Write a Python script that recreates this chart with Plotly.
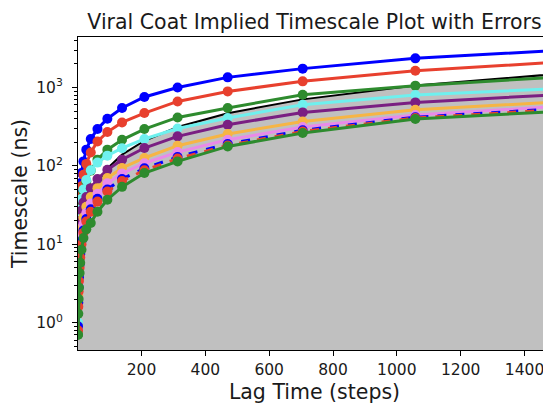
import plotly.graph_objects as go

# ---- data ----
lag_steps = [1, 2, 3, 4, 6, 8, 12, 18, 27, 41, 62, 93, 139, 209, 313, 470, 705, 1058, 1587]

ts_blue    = [0.95, 10, 20, 30, 45, 60, 81, 114, 161, 220, 295, 400, 547, 757, 1000, 1346, 1740, 2354, 3100]
ts_red     = [0.8, 6, 14, 22, 32, 41, 55, 77, 106, 148, 205, 270, 358, 472, 664, 891, 1197, 1638, 2200]
ts_green   = [0.7, 4, 9, 14, 22, 28, 36, 47, 63, 87, 120, 161, 215, 295, 415, 547, 809, 1055, 1420]
ts_cyan    = [1.0, 5, 10, 14, 22, 28, 38, 50, 66, 88, 110, 135, 168, 220, 300, 408, 603, 802, 1000]
ts_purple  = [0.85, 4, 7, 10, 15, 20, 27, 34, 40, 52, 68, 89, 120, 169, 238, 335, 481, 645, 845]
ts_orange  = [0.9, 2.2, 3.5, 5, 8, 11, 16, 22, 30, 40, 52, 70, 94, 126, 181, 255, 369, 521, 680]
ts_violet  = [0.85, 2, 3.2, 4.5, 6.5, 9, 13, 18, 25, 33, 44, 60, 80, 108, 150, 215, 313, 445, 600]
ts_blue_d  = [0.9, 1.8, 2.8, 3.8, 5.5, 7.5, 11, 15, 21, 28, 38, 50, 68, 93, 130, 190, 285, 418, 560]
ts_red_d   = [0.8, 1.6, 2.5, 3.4, 5, 6.8, 10, 14, 19.5, 26, 35, 47, 64, 88, 124, 182, 275, 408, 545]
ts_green_b = [0.7, 1.3, 2.0, 2.8, 4.3, 5.8, 8.5, 12, 15.5, 18.7, 26, 37, 54, 81, 114, 177, 262, 396, 515]

y_tick_vals = [1, 10, 100, 1000]
y_tick_text = ["10<sup>0</sup>", "10<sup>1</sup>", "10<sup>2</sup>", "10<sup>3</sup>"]
x_tick_vals = [200, 400, 600, 800, 1000, 1200, 1400]

series = [
    (ts_blue,    "#0000ff", "solid"),
    (ts_red,     "#e8402e", "solid"),
    (ts_green,   "#2e8b2e", "solid"),
    (ts_cyan,    "#6ef0ee", "solid"),
    (ts_purple,  "#7a1f82", "solid"),
    (ts_orange,  "#f6b545", "solid"),
    (ts_violet,  "#e98ae9", "solid"),
    (ts_blue_d,  "#0000ff", "dash"),
    (ts_red_d,   "#e8402e", "dash"),
    (ts_green_b, "#2e8b2e", "solid"),
]

FONT = "DejaVu Sans"
TXT = "#1a1a1a"

# page body adds an 8px offset; figure sized so the axes land where the reference has them
W, H = 543, 396

fig = go.Figure()

# shaded region below the lag-time line
fig.add_trace(go.Scatter(
    x=lag_steps + lag_steps[::-1],
    y=lag_steps + [1e-3] * len(lag_steps),
    fill="toself", fillcolor="#c0c0c0", mode="lines",
    line=dict(width=0), hoverinfo="skip", showlegend=False))

# lag-time line
fig.add_trace(go.Scatter(
    x=lag_steps, y=lag_steps, mode="lines",
    line=dict(color="black", width=2), showlegend=False))

for vals, col, dash in series:
    fig.add_trace(go.Scatter(
        x=lag_steps, y=vals, mode="lines+markers",
        line=dict(color=col, width=3, dash=dash),
        marker=dict(color=col, size=10),
        showlegend=False))

minor_vals = [m * 10 ** e for e in range(-1, 4) for m in range(2, 10)]

fig.update_layout(
    width=W, height=H,
    margin=dict(l=70, r=0, t=29, b=54),
    paper_bgcolor="white", plot_bgcolor="white",
    font=dict(family=FONT, color=TXT),
    title=dict(text="Viral Coat Implied Timescale Plot with Errors",
               x=(314.5 - 8) / W, xref="container", xanchor="center",
               y=1 - 14 / H, yref="container", yanchor="middle",
               font=dict(size=20.5, family=FONT, color=TXT)),
    xaxis=dict(range=[1, 1483], tickvals=x_tick_vals, automargin=False,
               ticks="outside", ticklen=5, tickcolor="black",
               showline=True, linecolor="black", linewidth=1, mirror=True,
               showgrid=False, zeroline=False,
               tickfont=dict(size=15.5, family=FONT, color=TXT),
               title=dict(text="Lag Time (steps)", standoff=7,
                          font=dict(size=20.5, family=FONT, color=TXT))),
    yaxis=dict(type="log", range=[-0.349, 3.644], automargin=False,
               tickvals=y_tick_vals, ticktext=y_tick_text,
               ticks="outside", ticklen=5, tickcolor="black",
               ticklabelstandoff=6,
               showline=True, linecolor="black", linewidth=1, mirror=True,
               showgrid=False, zeroline=False,
               tickfont=dict(size=15.5, family=FONT, color=TXT),
               minor=dict(tickmode="array", tickvals=minor_vals,
                          ticks="outside", ticklen=3, tickcolor="black",
                          showgrid=False),
               title=dict(text="Timescale (ns)", standoff=6,
                          font=dict(size=20.5, family=FONT, color=TXT))),
)

fig.write_html("out.html")
